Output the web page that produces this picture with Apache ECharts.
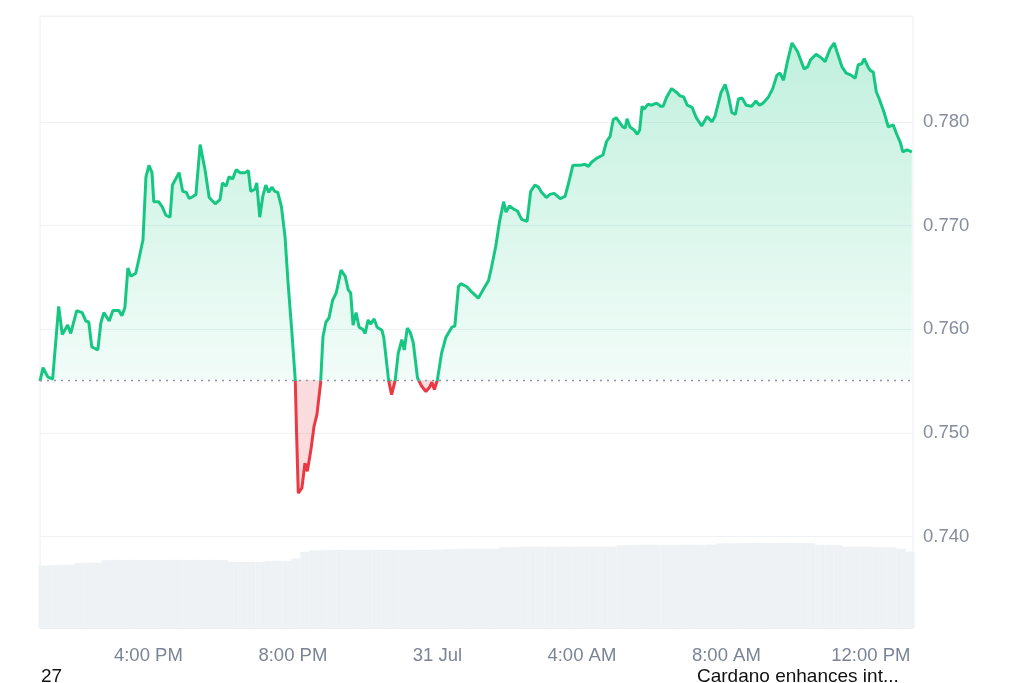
<!DOCTYPE html>
<html>
<head>
<meta charset="utf-8">
<script src="https://cdn.jsdelivr.net/npm/echarts@6/dist/echarts.min.js"></script>
<style>
html,body{margin:0;padding:0;background:#fff;}
#chart{width:1024px;height:683px;}
</style>
</head>
<body>
<div id="chart"></div>
<script>
// ---- data ----
// time axis: minutes since 30 Jul 00:00; first sample at 30 Jul 13:00
const startMinuteOfDay = 780;
const spanMinutes = 1450;
const baselinePrice = 0.7551;

// minutes after 13:00 of each price sample
const minutes = [
  0,5,13,21,31,37,46,51,61,70,
  76,81,86,96,101,106,115,121,131,136,
  141,146,151,159,164,171,176,181,186,189,
  197,203,209,216,220,231,237,243,248,254,
  259,266,274,281,291,299,303,309,314,320,
  326,332,341,346,350,357,360,365,370,375,
  380,385,390,395,401,407,412,418,424,426,
  429,435,440,444,450,455,460,466,470,475,
  480,486,492,500,507,512,516,520,525,530,
  536,540,545,549,555,560,568,571,579,584,
  590,595,601,605,610,615,620,627,634,641,
  647,651,655,660,667,674,684,689,695,699,
  709,717,728,736,745,750,757,763,770,774,
  780,786,793,800,809,815,822,828,833,841,
  847,854,864,872,878,885,897,905,911,916,
  925,935,941,947,952,957,962,968,972,975,
  980,987,992,996,1000,1003,1010,1016,1024,1031,
  1035,1041,1049,1058,1063,1069,1075,1083,1090,1099,
  1108,1116,1121,1131,1138,1143,1149,1155,1160,1166,
  1173,1182,1189,1195,1201,1210,1217,1224,1229,1235,
  1241,1249,1258,1269,1275,1280,1289,1297,1304,1312,
  1319,1324,1332,1339,1347,1354,1359,1365,1369,1376,
  1380,1384,1389,1394,1402,1409,1417,1423,1429,1433,
  1440,1448
];

const prices = [
  0.7550,0.7563,0.7554,0.7552,0.7622,0.7595,0.7604,0.7596,0.7618,0.7616,
  0.7608,0.7607,0.7583,0.7580,0.7606,0.7616,0.7608,0.7618,0.7618,0.7613,
  0.7621,0.7659,0.7651,0.7654,0.7667,0.7686,0.7747,0.7758,0.7751,0.7723,
  0.7723,0.7718,0.7710,0.7708,0.7739,0.7751,0.7733,0.7732,0.7726,0.7728,
  0.7730,0.7778,0.7754,0.7727,0.7721,0.7725,0.7741,0.7738,0.7747,0.7745,
  0.7754,0.7751,0.7751,0.7753,0.7733,0.7735,0.7741,0.7708,0.7728,0.7739,
  0.7732,0.7737,0.7733,0.7732,0.7718,0.7689,0.7645,0.7600,0.7551,0.7503,
  0.7442,0.7447,0.7471,0.7463,0.7484,0.7506,0.7518,0.7548,0.7593,0.7607,
  0.7611,0.7628,0.7635,0.7657,0.7651,0.7638,0.7635,0.7604,0.7616,0.7602,
  0.7600,0.7596,0.7609,0.7605,0.7610,0.7602,0.7599,0.7592,0.7551,0.7537,
  0.7551,0.7577,0.7590,0.7580,0.7601,0.7597,0.7587,0.7553,0.7545,0.7540,
  0.7544,0.7549,0.7542,0.7551,0.7577,0.7592,0.7602,0.7603,0.7641,0.7644,
  0.7641,0.7636,0.7630,0.7638,0.7647,0.7660,0.7680,0.7703,0.7723,0.7713,
  0.7719,0.7716,0.7714,0.7706,0.7704,0.7733,0.7739,0.7737,0.7732,0.7727,
  0.7730,0.7731,0.7726,0.7728,0.7741,0.7758,0.7758,0.7759,0.7757,0.7761,
  0.7765,0.7768,0.7781,0.7786,0.7802,0.7804,0.7800,0.7795,0.7794,0.7803,
  0.7795,0.7792,0.7788,0.7792,0.7815,0.7812,0.7817,0.7816,0.7818,0.7815,
  0.7815,0.7824,0.7832,0.7828,0.7825,0.7824,0.7816,0.7814,0.7804,0.7796,
  0.7805,0.7800,0.7805,0.7828,0.7836,0.7826,0.7809,0.7807,0.7822,0.7823,
  0.7816,0.7815,0.7820,0.7816,0.7818,0.7824,0.7832,0.7845,0.7847,0.7840,
  0.7857,0.7876,0.7868,0.7851,0.7853,0.7860,0.7865,0.7862,0.7858,0.7870,
  0.7876,0.7867,0.7853,0.7847,0.7845,0.7842,0.7855,0.7856,0.7861,0.7852,
  0.7849,0.7848,0.7829,0.7822,0.7809,0.7795,0.7797,0.7788,0.7780,0.7771,
  0.7773,0.7771
];

// volume bars, one per 15 minutes (first centred at 13:05), in USD millions
const volumeStepMinutes = 15;
const volumeFirstMinute = 5;
const volumes = [
  815,820,823,826,
  848,850,852,
  886,888,889,890,889,888,889,890,891,889,888,889,890,889,
  864,862,863,865,
  874,876,877,
  905,
  995,
  1015,1018,1020,1021,1020,1019,1020,1021,1022,1020,1019,1020,1021,1022,1024,
  1030,1032,1033,1034,1033,1035,
  1055,1057,1058,1059,1060,1059,1058,1059,1060,1061,1060,1059,1062,
  1080,1083,1085,1086,1085,1084,1085,1087,1086,1088,1090,
  1105,1108,1110,1111,1112,1111,1110,1112,1111,1110,1108,
  1088,1085,1083,
  1062,1060,1059,1058,1057,1055,
  1035,
  1000
];

const yTickLabels = ['0.740','0.750','0.760','0.770','0.780'];
const xTickLabels = ['4:00 PM','8:00 PM','31 Jul','4:00 AM','8:00 AM','12:00 PM'];
const footerLeft = '27';
const footerRight = 'Cardano enhances int...';

// ---- build ----
const GREEN = '#16c784';
const RED = '#ea3943';
const FONT = '"Liberation Sans", Arial, Helvetica, sans-serif';
const GRID_LINE = '#eff1f4';

const priceData = prices.map((p, i) => [startMinuteOfDay + minutes[i], p]);
const volumeData = volumes.map((v, i) => [startMinuteOfDay + volumeFirstMinute + i * volumeStepMinutes, v]);

const pMax = Math.max(...prices);
const pMin = Math.min(...prices);
const frac = (pMax - baselinePrice) / (pMax - pMin);

function xLabel(v) {
  if (v % 240 !== 0) return '';
  const day = Math.floor(v / 1440);
  const mod = v % 1440;
  let s;
  if (mod === 0) {
    s = (30 + day) + ' Jul';
  } else {
    const h = mod / 60;
    const h12 = h % 12 === 0 ? 12 : h % 12;
    s = h12 + ':00 ' + (h < 12 ? 'AM' : 'PM');
  }
  return xTickLabels.indexOf(s) >= 0 ? s : '';
}

function yLabel(v) {
  const s = v.toFixed(3);
  return yTickLabels.indexOf(s) >= 0 && Math.abs(v - parseFloat(s)) < 1e-6 ? s : '';
}

const chart = echarts.init(document.getElementById('chart'), null, {renderer: 'canvas'});

const gridPos = {left: 40, right: 111, top: 16, bottom: 55};

chart.setOption({
  animation: false,
  backgroundColor: '#ffffff',
  grid: [
    Object.assign({show: true, borderColor: '#eceef1', borderWidth: 1, backgroundColor: 'transparent'}, gridPos),
    Object.assign({show: false}, gridPos)
  ],
  xAxis: [
    {
      type: 'value', gridIndex: 0,
      min: startMinuteOfDay, max: startMinuteOfDay + spanMinutes, interval: 60,
      axisLine: {show: false}, axisTick: {show: false}, splitLine: {show: false},
      axisLabel: {
        formatter: xLabel, color: '#7b8496', fontSize: 18.5, fontFamily: FONT, margin: 18,
        showMinLabel: false, showMaxLabel: false
      }
    },
    {
      type: 'value', gridIndex: 1,
      min: startMinuteOfDay, max: startMinuteOfDay + spanMinutes,
      show: false
    }
  ],
  yAxis: [
    {
      type: 'value', gridIndex: 0, position: 'right',
      min: 0.7312, max: 0.7902, splitNumber: 6,
      axisLine: {show: false}, axisTick: {show: false},
      splitLine: {
        show: true,
        lineStyle: {
          color: [GRID_LINE, GRID_LINE, GRID_LINE, GRID_LINE, GRID_LINE, GRID_LINE, 'rgba(255,255,255,0)', GRID_LINE],
          width: 1
        }
      },
      axisLabel: {
        formatter: yLabel, color: '#858c9c', fontSize: 18.5, fontFamily: FONT, margin: 10,
        showMinLabel: false, showMaxLabel: false
      }
    },
    {
      type: 'value', gridIndex: 1, min: 0, max: 8000, show: false
    }
  ],
  series: [
    {
      name: 'Volume', type: 'bar', xAxisIndex: 1, yAxisIndex: 1,
      data: volumeData, barCategoryGap: '0%', z: 1, silent: true,
      itemStyle: {color: '#eff2f5', borderColor: '#eaedf1', borderWidth: 0.3}
    },
    {
      name: 'Price', type: 'line', xAxisIndex: 0, yAxisIndex: 0,
      data: priceData, showSymbol: false, smooth: false, z: 3,
      lineStyle: {
        width: 3,
        color: new echarts.graphic.LinearGradient(0, 0, 0, 1, [
          {offset: 0, color: GREEN},
          {offset: frac, color: GREEN},
          {offset: frac, color: RED},
          {offset: 1, color: RED}
        ])
      },
      areaStyle: {
        origin: baselinePrice,
        color: new echarts.graphic.LinearGradient(0, 0, 0, 1, [
          {offset: 0, color: 'rgba(22,199,132,0.38)'},
          {offset: frac, color: 'rgba(22,199,132,0.08)'},
          {offset: frac, color: 'rgba(234,57,67,0.25)'},
          {offset: 1, color: 'rgba(234,57,67,0.25)'}
        ])
      },
      markLine: {
        silent: true, symbol: 'none', label: {show: false}, precision: 4,
        lineStyle: {type: [2, 5], color: '#8f96a3', width: 1.4},
        data: [{yAxis: baselinePrice}]
      }
    }
  ],
  graphic: [
    {type: 'text', x: 41, y: 677, style: {text: footerLeft, fontSize: 19, fontFamily: FONT, fill: '#111', verticalAlign: 'middle', align: 'left'}},
    {type: 'text', x: 697, y: 677, style: {text: footerRight, fontSize: 19, fontFamily: FONT, fill: '#111', verticalAlign: 'middle', align: 'left'}}
  ]
});
</script>
</body>
</html>
